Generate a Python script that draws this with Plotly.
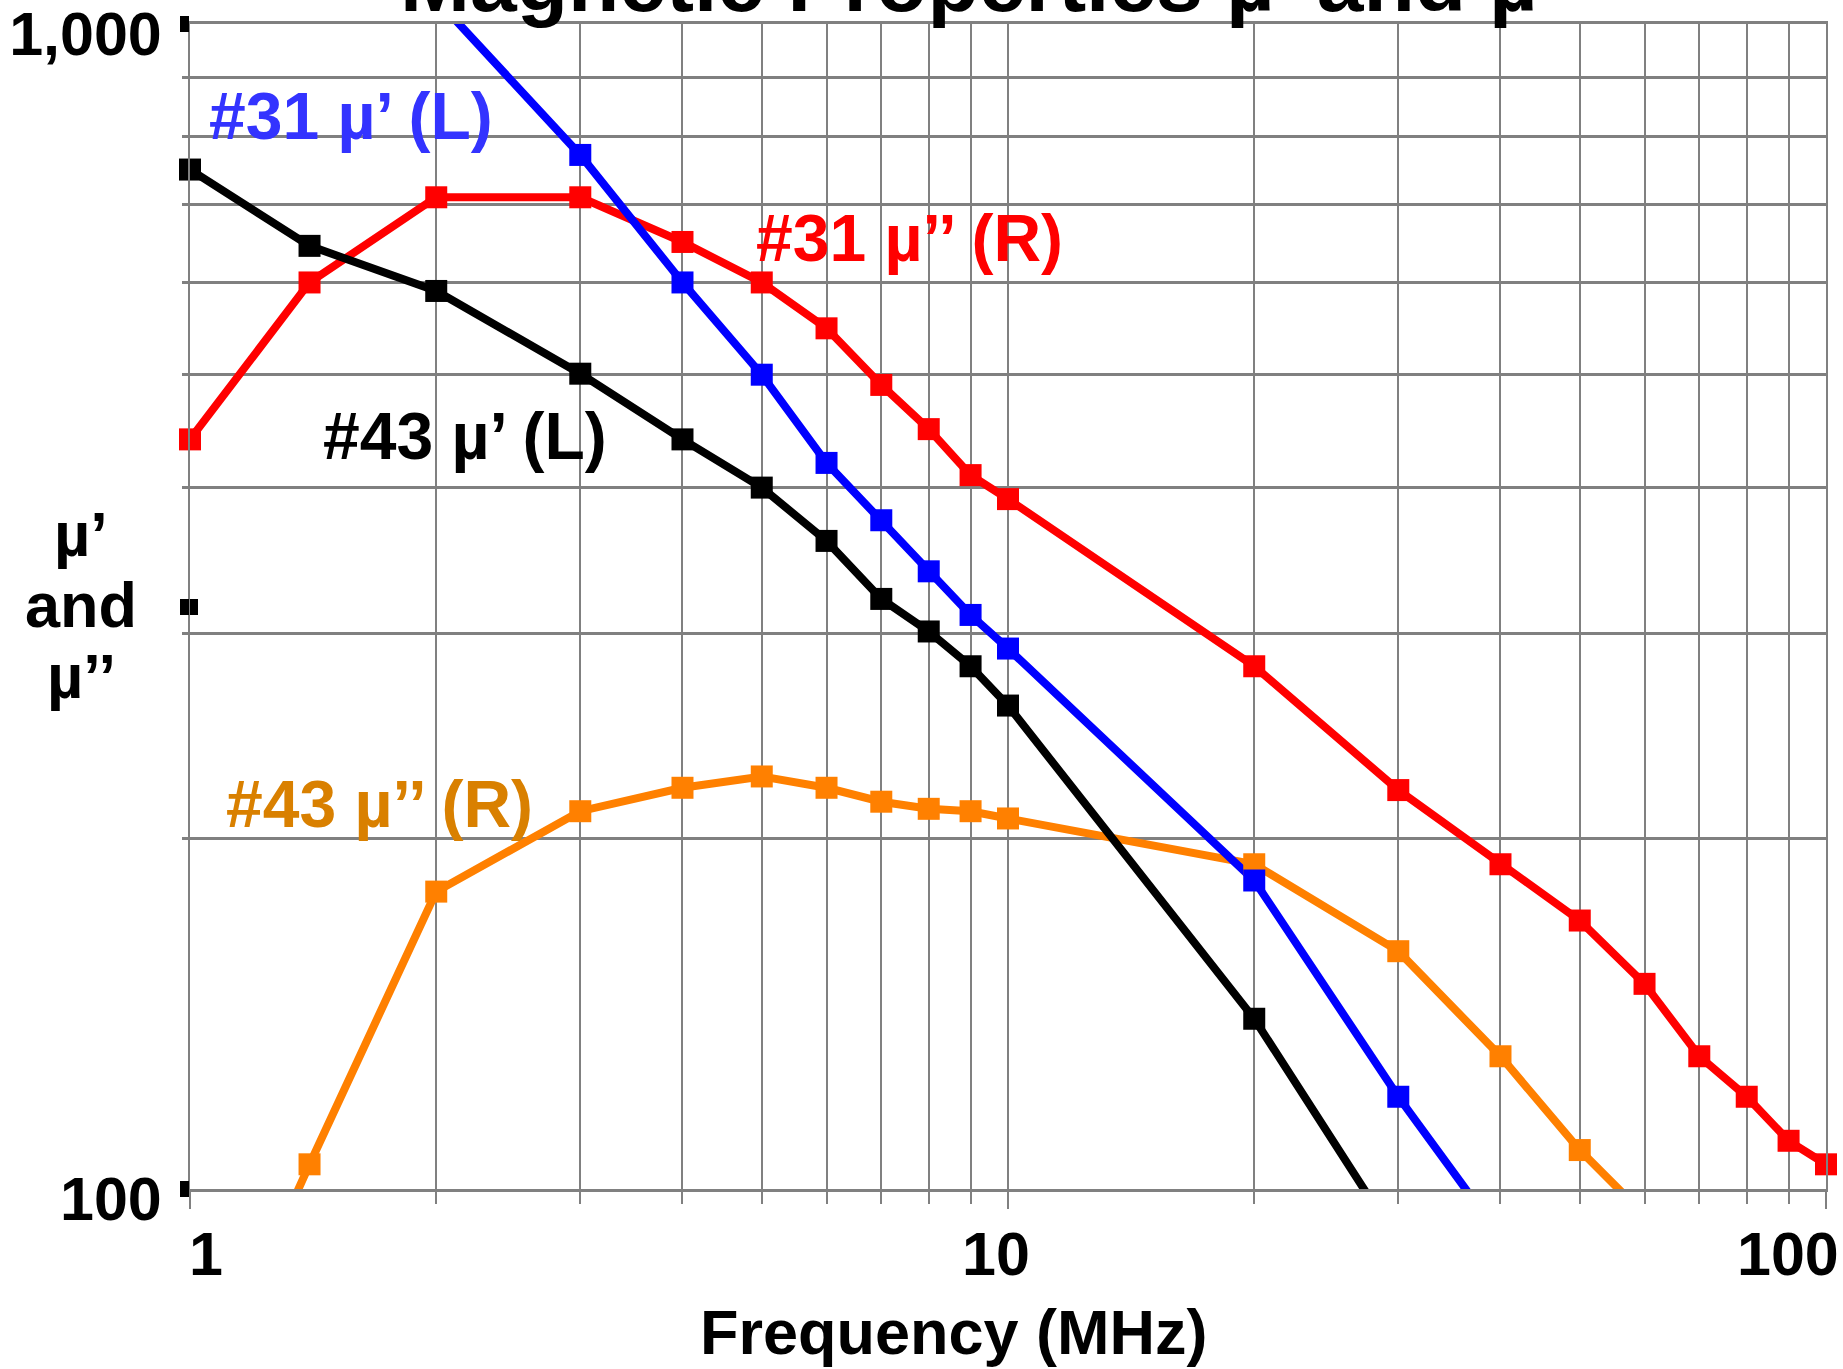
import math
import plotly.graph_objects as go

# ---- data ----
freq_31_mu1 = [2, 3, 4, 5, 6, 7, 8, 9, 10, 20, 30, 40]
val_31_mu1 = [1050, 772, 600, 500, 420, 375, 339, 311, 291, 184, 120, 91]

freq_31_mu2 = [1, 1.4, 2, 3, 4, 5, 6, 7, 8, 9, 10, 20, 30, 40, 50, 60, 70, 80, 90, 100]
val_31_mu2 = [440, 600, 710, 710, 650, 600, 548, 490, 449, 410, 391, 281, 220, 190, 170, 150, 130, 120, 110, 105]

freq_43_mu1 = [1, 1.4, 2, 3, 4, 5, 6, 7, 8, 9, 10, 20, 30]
val_43_mu1 = [750, 645, 590, 501, 440, 400, 360, 321, 301, 281, 260, 140, 90]

freq_43_mu2 = [1, 1.4, 2, 3, 4, 5, 6, 7, 8, 9, 10, 20, 30, 40, 50, 60]
val_43_mu2 = [62, 105, 180, 211, 221, 226, 221, 215, 212, 211, 208, 190, 160, 130, 108, 95]

x_major = [1, 10, 100]
x_major_text = ["1", "10", "100"]
x_minor = [2, 3, 4, 5, 6, 7, 8, 9, 20, 30, 40, 50, 60, 70, 80, 90]
y_major = [100, 1000]
y_major_text = ["100", "1,000"]
y_minor = [200, 300, 400, 500, 600, 700, 800, 900]
y_marks = [100, 316.23, 1000]

X_MIN, X_MAX = 1, 100
Y_MIN, Y_MAX = 100, 1000

title_text = "Magnetic Properties µ’ and µ’’"
x_title = "Frequency (MHz)"
y_title_lines = ["µ’", "and", "µ’’"]

FONT = "Liberation Sans, Arial, sans-serif"
GRID = "#808080"
W, H = 1843, 1369
ML, MR, MT, MB = 190, 17, 24, 180
PW, PH = W - ML - MR, H - MT - MB


def px_x(px):
    return (px - ML) / PW


def px_y(py):
    return (H - MB - py) / PH


fig = go.Figure()

series = [
    (freq_31_mu2, val_31_mu2, "#FF0000"),
    (freq_43_mu2, val_43_mu2, "#FF8000"),
    (freq_43_mu1, val_43_mu1, "#000000"),
    (freq_31_mu1, val_31_mu1, "#0000FF"),
]
for fx, fy, col in series:
    fig.add_trace(go.Scatter(
        x=fx, y=fy, mode="lines",
        line=dict(color=col, width=8),
        hoverinfo="skip", showlegend=False,
    ))
for fx, fy, col in series:
    pts = [(a, b) for a, b in zip(fx, fy) if X_MIN <= a <= X_MAX and Y_MIN <= b <= Y_MAX]
    fig.add_trace(go.Scatter(
        x=[p[0] for p in pts], y=[p[1] for p in pts], mode="markers",
        marker=dict(symbol="square", size=22, color=col),
        cliponaxis=False, hoverinfo="skip", showlegend=False,
    ))

# dummy traces for tick-mark overlay axes
fig.add_trace(go.Scatter(x=[], y=[], yaxis="y2", showlegend=False, hoverinfo="skip"))
fig.add_trace(go.Scatter(x=[], y=[], yaxis="y3", showlegend=False, hoverinfo="skip"))

bold = dict(family=FONT, weight="bold", color="black")

fig.update_layout(
    width=W, height=H,
    margin=dict(l=ML, r=MR, t=MT, b=MB, pad=0, autoexpand=False),
    paper_bgcolor="white", plot_bgcolor="white",
    showlegend=False,
    xaxis=dict(
        type="log", range=[math.log10(X_MIN), math.log10(X_MAX)],
        tickvals=x_major, showticklabels=False, automargin=False,
        ticks="outside", ticklen=17, tickwidth=2, tickcolor=GRID,
        showgrid=True, gridcolor=GRID, gridwidth=2,
        showline=True, linecolor=GRID, linewidth=3, mirror=True,
        minor=dict(tickvals=x_minor, ticks="outside", ticklen=12, tickwidth=2,
                   tickcolor=GRID, showgrid=True, gridcolor=GRID, gridwidth=2),
        fixedrange=True,
    ),
    yaxis=dict(
        type="log", range=[math.log10(Y_MIN), math.log10(Y_MAX)],
        tickvals=y_major, ticktext=y_major_text, automargin=False,
        ticks="outside", ticklen=6, tickwidth=3, tickcolor=GRID,
        tickfont=dict(size=61, **bold),
        ticklabelstandoff=8, ticklabelshift=10, ticklabeloverflow="allow",
        showgrid=True, gridcolor=GRID, gridwidth=3,
        showline=True, linecolor=GRID, linewidth=2, mirror=True,
        minor=dict(tickvals=y_minor, ticks="outside", ticklen=6, tickwidth=3,
                   tickcolor=GRID, showgrid=True, gridcolor=GRID, gridwidth=3),
        fixedrange=True,
    ),
    yaxis2=dict(
        type="log", range=[2, 3], overlaying="y", anchor="x", side="left",
        tickvals=y_marks, showticklabels=False, ticks="outside", ticklen=9,
        tickwidth=16, tickcolor="black", showgrid=False, showline=False,
        automargin=False, fixedrange=True,
    ),
    yaxis3=dict(
        type="log", range=[2, 3], overlaying="y", anchor="x", side="left",
        tickvals=y_marks, showticklabels=False, ticks="inside", ticklen=8,
        tickwidth=16, tickcolor="black", showgrid=False, showline=False,
        automargin=False, fixedrange=True,
    ),
)

ann = []
# x tick labels
x_shifts = [16, -12, -38]
for i, (v, t) in enumerate(zip(x_major, x_major_text)):
    ann.append(dict(x=math.log10(v), xref="x", y=0, yref="paper", text=t,
                    showarrow=False, xanchor="center", yanchor="middle",
                    xshift=x_shifts[i], yshift=-65, font=dict(size=61, **bold)))
# axis titles
ann.append(dict(x=px_x(954), xref="paper", y=0, yref="paper", text=x_title,
                showarrow=False, xanchor="center", yanchor="middle", yshift=-143,
                font=dict(size=63, **bold)))
for i, t in enumerate(y_title_lines):
    ann.append(dict(x=px_x(81), xref="paper", y=0.5, yref="paper", text=t,
                    showarrow=False, xanchor="center", yanchor="middle",
                    yshift=2 + (1 - i) * 71,
                    font=dict(size=63, **bold)))
# title
ann.append(dict(x=px_x(990), xref="paper", y=1, yref="paper", text=title_text,
                showarrow=False, xanchor="center", yanchor="bottom", yshift=-7,
                font=dict(size=84, **bold)))
# series labels
labels = [
    ("#31 µ’ (L)", 207, 116, "#3333FF"),
    ("#31 µ’’ (R)", 754, 238, "#FF0000"),
    ("#43 µ’ (L)", 321, 436, "#000000"),
    ("#43 µ’’ (R)", 224, 804, "#D98000"),
]
for t, lx, ly, c in labels:
    ann.append(dict(x=px_x(lx), xref="paper", y=px_y(ly), yref="paper", text=t,
                    showarrow=False, xanchor="left", yanchor="middle",
                    font=dict(size=66, family=FONT, weight="bold", color=c)))
fig.update_layout(annotations=ann)

fig.write_html("out.html", config={"staticPlot": True})
